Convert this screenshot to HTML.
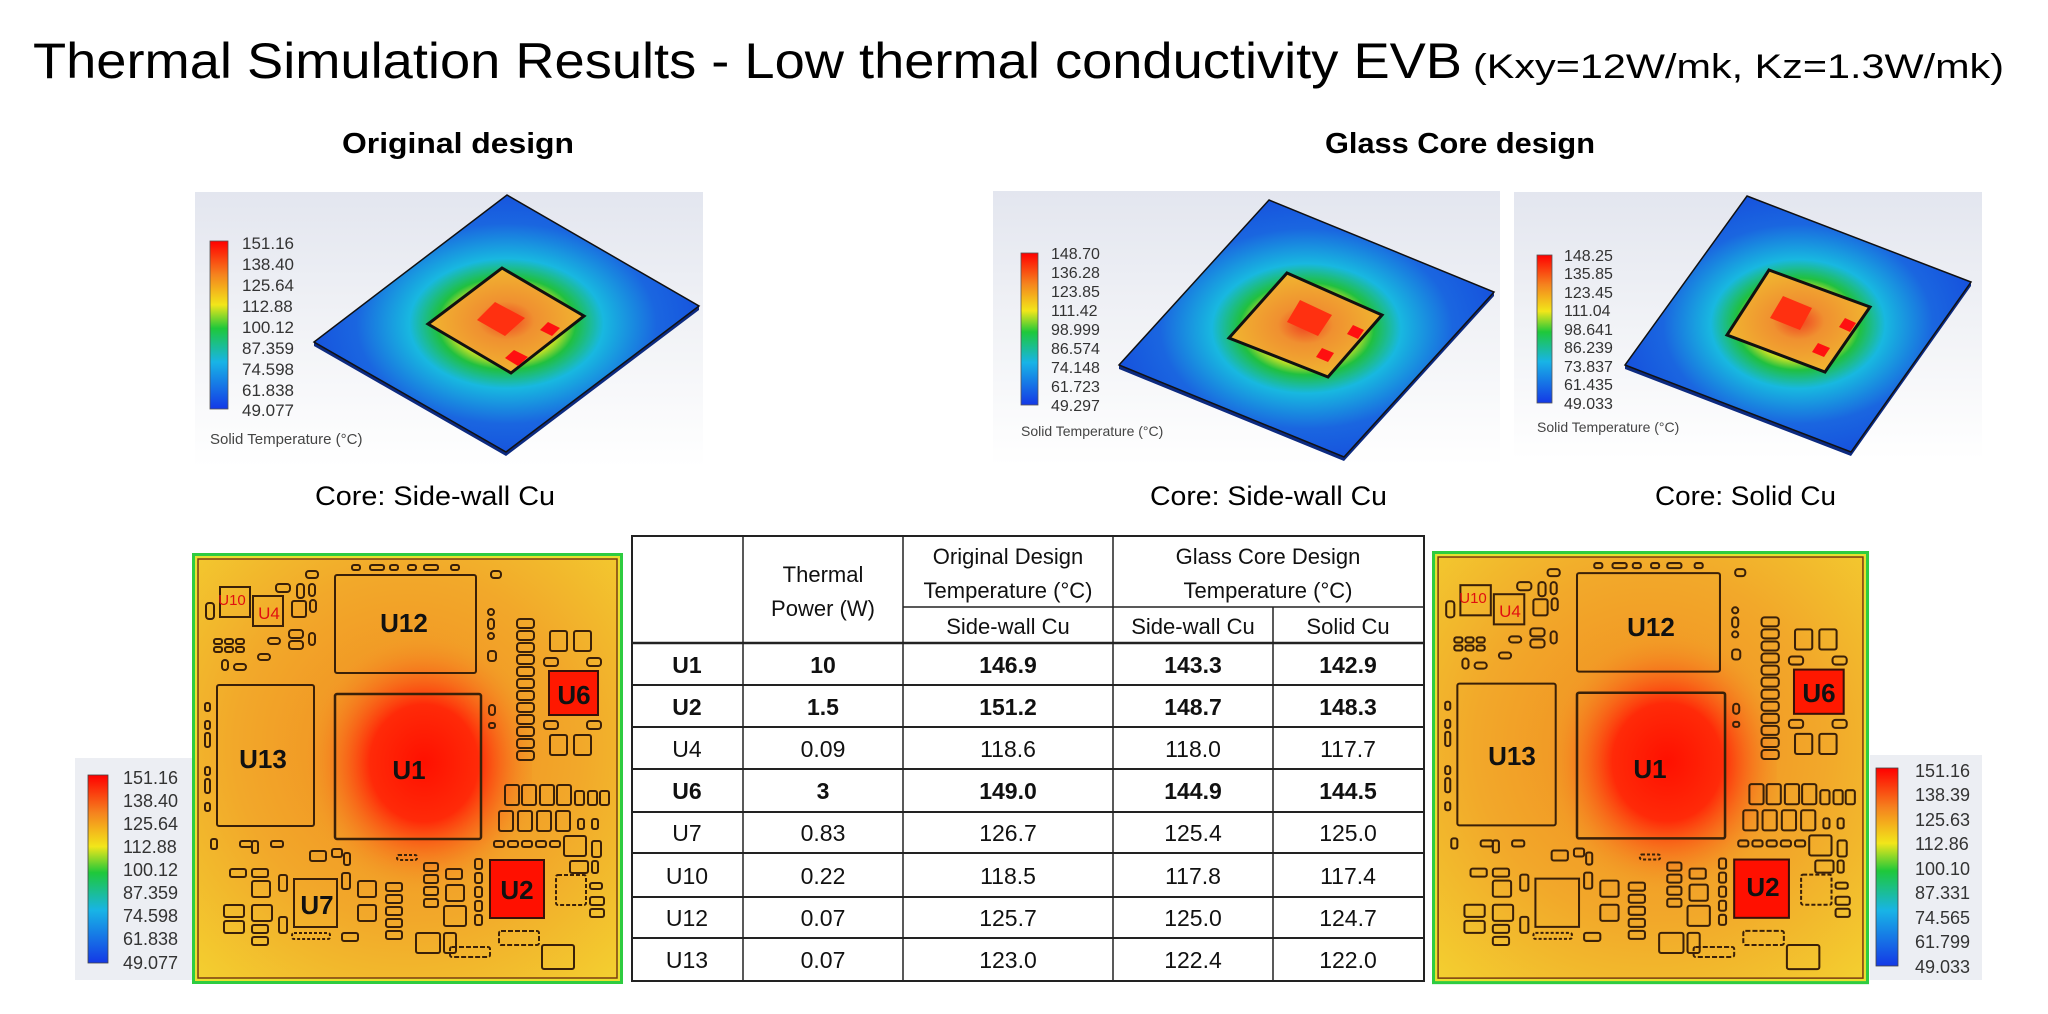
<!DOCTYPE html>
<html><head><meta charset="utf-8"><style>
html,body{margin:0;padding:0;background:#fff;width:2048px;height:1014px;overflow:hidden}
svg{display:block}
text{font-family:"Liberation Sans",sans-serif}
</style></head><body>
<svg width="2048" height="1014" viewBox="0 0 2048 1014" xmlns="http://www.w3.org/2000/svg">
<defs>
<linearGradient id="cbar" x1="0" y1="0" x2="0" y2="1">
<stop offset="0" stop-color="#ff0000"/><stop offset="0.2" stop-color="#f5821e"/><stop offset="0.38" stop-color="#f2e61a"/><stop offset="0.52" stop-color="#1ec83a"/><stop offset="0.72" stop-color="#18b4e6"/><stop offset="1" stop-color="#1438e6"/>
</linearGradient>
<linearGradient id="bg" x1="0" y1="0" x2="0" y2="1"><stop offset="0" stop-color="#e3e6ef"/><stop offset="0.6" stop-color="#f4f5f8"/><stop offset="1" stop-color="#ffffff"/></linearGradient>
<radialGradient id="plate" cx="0.5" cy="0.5" r="0.6">
<stop offset="0" stop-color="#f5e020"/><stop offset="0.22" stop-color="#e8e820"/><stop offset="0.3" stop-color="#20c040"/><stop offset="0.42" stop-color="#18b8e0"/><stop offset="0.65" stop-color="#1a66e0"/><stop offset="1" stop-color="#1446dc"/>
</radialGradient>
<radialGradient id="board" cx="0.5" cy="0.45" r="0.75">
<stop offset="0" stop-color="#f08a20"/><stop offset="0.55" stop-color="#f2a82a"/><stop offset="1" stop-color="#f3d030"/>
</radialGradient>
<radialGradient id="hot" cx="0.55" cy="0.5" r="0.5">
<stop offset="0" stop-color="#ff1000"/><stop offset="0.45" stop-color="#ff2a08"/><stop offset="1" stop-color="#f39a28" stop-opacity="0"/>
</radialGradient>
<radialGradient id="chip" cx="0.5" cy="0.5" r="0.6"><stop offset="0" stop-color="#f04020"/><stop offset="0.3" stop-color="#f09030"/><stop offset="1" stop-color="#f0c030"/></radialGradient>
<g id="brd">
<rect x="0" y="0" width="431" height="431" fill="#2ecc40"/>
<rect x="3" y="3" width="425" height="425" fill="#e8e030"/>
<rect x="6" y="6" width="419" height="419" fill="url(#board)" stroke="#7a3c10" stroke-width="1.5"/>
<rect x="100" y="80" width="240" height="260" fill="url(#hot)"/>
<g fill="none" stroke="#3a2008" stroke-width="2">
<rect x="143" y="22" width="141" height="98" rx="2"/>
<rect x="25" y="132" width="97" height="141" rx="2"/>
<rect x="143" y="141" width="146" height="145" rx="2" stroke-width="2.5"/>
<rect x="102" y="326" width="43" height="48"/>
<rect x="28" y="34" width="30" height="30"/><rect x="61" y="43" width="30" height="30"/>
<rect x="14" y="50" width="8" height="16" rx="3"/>
<rect x="84" y="31" width="14" height="8" rx="3"/><rect x="105" y="31" width="7" height="14" rx="3"/><rect x="117" y="31" width="6" height="12" rx="3"/>
<rect x="114" y="18" width="12" height="7" rx="3"/><rect x="100" y="48" width="14" height="16" rx="2"/><rect x="118" y="47" width="6" height="12" rx="3"/>
<rect x="97" y="77" width="14" height="8" rx="3"/><rect x="97" y="88" width="14" height="8" rx="3"/><rect x="117" y="80" width="6" height="12" rx="3"/>
<rect x="76" y="85" width="12" height="6" rx="3"/><rect x="66" y="101" width="12" height="6" rx="3"/><rect x="30" y="107" width="6" height="10" rx="3"/><rect x="42" y="111" width="12" height="6" rx="3"/>
<rect x="22" y="86" width="8" height="5" rx="2"/><rect x="33" y="86" width="8" height="5" rx="2"/><rect x="44" y="86" width="8" height="5" rx="2"/>
<rect x="22" y="94" width="8" height="5" rx="2"/><rect x="33" y="94" width="8" height="5" rx="2"/><rect x="44" y="94" width="8" height="5" rx="2"/>
<rect x="160" y="12" width="8" height="5" rx="2"/><rect x="178" y="12" width="14" height="5" rx="2"/><rect x="198" y="12" width="8" height="5" rx="2"/><rect x="216" y="12" width="8" height="5" rx="2"/><rect x="232" y="12" width="14" height="5" rx="2"/><rect x="259" y="12" width="8" height="5" rx="2"/>
<rect x="299" y="18" width="10" height="7" rx="3"/>
<rect x="296" y="56" width="6" height="6" rx="3"/><rect x="296" y="66" width="6" height="10" rx="3"/><rect x="296" y="80" width="6" height="6" rx="3"/><rect x="296" y="98" width="8" height="10" rx="3"/>
<rect x="325" y="66" width="17" height="9" rx="3"/><rect x="325" y="78" width="17" height="9" rx="3"/><rect x="325" y="90" width="17" height="9" rx="3"/><rect x="325" y="102" width="17" height="9" rx="3"/><rect x="325" y="114" width="17" height="9" rx="3"/><rect x="325" y="126" width="17" height="9" rx="3"/><rect x="325" y="138" width="17" height="9" rx="3"/><rect x="325" y="150" width="17" height="9" rx="3"/><rect x="325" y="162" width="17" height="9" rx="3"/><rect x="325" y="174" width="17" height="9" rx="3"/><rect x="325" y="186" width="17" height="9" rx="3"/><rect x="325" y="198" width="17" height="9" rx="3"/>
<rect x="358" y="78" width="17" height="20" rx="2"/><rect x="382" y="78" width="17" height="20" rx="2"/><rect x="352" y="105" width="14" height="8" rx="3"/><rect x="395" y="105" width="14" height="8" rx="3"/>
<rect x="352" y="168" width="14" height="8" rx="3"/><rect x="395" y="168" width="14" height="8" rx="3"/><rect x="358" y="182" width="17" height="20" rx="2"/><rect x="382" y="182" width="17" height="20" rx="2"/>
<rect x="297" y="152" width="6" height="10" rx="3"/><rect x="297" y="170" width="6" height="5" rx="2"/>
<rect x="13" y="150" width="5" height="8" rx="2"/><rect x="13" y="168" width="5" height="8" rx="2"/><rect x="13" y="180" width="5" height="14" rx="2"/><rect x="13" y="214" width="5" height="8" rx="2"/><rect x="13" y="226" width="5" height="14" rx="2"/><rect x="13" y="250" width="5" height="8" rx="2"/>
<rect x="313" y="232" width="14" height="20" rx="2"/><rect x="330" y="232" width="14" height="20" rx="2"/><rect x="348" y="232" width="14" height="20" rx="2"/><rect x="365" y="232" width="14" height="20" rx="2"/><rect x="383" y="238" width="9" height="14" rx="2"/><rect x="396" y="238" width="9" height="14" rx="2"/><rect x="408" y="238" width="9" height="14" rx="2"/>
<rect x="307" y="258" width="14" height="20" rx="2"/><rect x="326" y="258" width="14" height="20" rx="2"/><rect x="345" y="258" width="14" height="20" rx="2"/><rect x="364" y="258" width="14" height="20" rx="2"/><rect x="386" y="266" width="6" height="10" rx="2"/><rect x="400" y="266" width="6" height="10" rx="2"/>
<rect x="302" y="288" width="10" height="6" rx="2"/><rect x="316" y="288" width="10" height="6" rx="2"/><rect x="330" y="288" width="10" height="6" rx="2"/><rect x="344" y="288" width="10" height="6" rx="2"/><rect x="358" y="288" width="10" height="6" rx="2"/><rect x="372" y="283" width="22" height="20" rx="2"/><rect x="400" y="288" width="9" height="16" rx="2"/>
<rect x="378" y="308" width="18" height="12" rx="2"/><rect x="400" y="308" width="6" height="12" rx="2"/>
<rect x="364" y="322" width="30" height="30" rx="2" stroke-dasharray="4 2"/><rect x="398" y="330" width="12" height="6" rx="2"/><rect x="398" y="344" width="14" height="8" rx="2"/><rect x="398" y="356" width="14" height="8" rx="2"/>
<rect x="350" y="392" width="32" height="24" rx="2"/><rect x="307" y="378" width="40" height="14" rx="2" stroke-dasharray="5 2"/><rect x="258" y="394" width="40" height="10" rx="2" stroke-dasharray="5 2"/>
<rect x="19" y="286" width="6" height="10" rx="2"/><rect x="48" y="288" width="12" height="6" rx="2"/><rect x="60" y="288" width="6" height="12" rx="2"/><rect x="79" y="288" width="12" height="6" rx="2"/>
<rect x="38" y="316" width="16" height="8" rx="2"/><rect x="60" y="316" width="16" height="8" rx="2"/><rect x="60" y="328" width="18" height="16" rx="2"/><rect x="87" y="322" width="8" height="16" rx="2"/>
<rect x="32" y="352" width="20" height="12" rx="2"/><rect x="32" y="368" width="20" height="12" rx="2"/><rect x="60" y="352" width="20" height="16" rx="2"/><rect x="60" y="372" width="16" height="8" rx="2"/><rect x="60" y="384" width="16" height="8" rx="2"/><rect x="87" y="364" width="8" height="16" rx="2"/>
<rect x="100" y="380" width="38" height="6" rx="2" stroke-dasharray="3 2"/><rect x="118" y="298" width="16" height="10" rx="2"/><rect x="140" y="296" width="10" height="8" rx="2"/><rect x="152" y="300" width="6" height="12" rx="2"/><rect x="150" y="320" width="8" height="16" rx="2"/>
<rect x="166" y="328" width="18" height="16" rx="2"/><rect x="166" y="352" width="18" height="16" rx="2"/><rect x="150" y="380" width="16" height="8" rx="2"/>
<rect x="194" y="330" width="16" height="8" rx="2"/><rect x="194" y="342" width="16" height="8" rx="2"/><rect x="194" y="354" width="16" height="8" rx="2"/><rect x="194" y="366" width="16" height="8" rx="2"/><rect x="194" y="378" width="16" height="8" rx="2"/>
<rect x="205" y="302" width="20" height="5" rx="2" stroke-dasharray="3 2"/><rect x="232" y="310" width="14" height="8" rx="2"/><rect x="232" y="322" width="14" height="8" rx="2"/><rect x="232" y="334" width="14" height="8" rx="2"/><rect x="232" y="346" width="14" height="8" rx="2"/>
<rect x="254" y="316" width="16" height="10" rx="2"/><rect x="254" y="332" width="18" height="16" rx="2"/><rect x="252" y="353" width="22" height="20" rx="2"/>
<rect x="283" y="306" width="7" height="10" rx="2"/><rect x="283" y="320" width="7" height="10" rx="2"/><rect x="283" y="334" width="7" height="10" rx="2"/><rect x="283" y="348" width="7" height="10" rx="2"/><rect x="283" y="362" width="7" height="10" rx="2"/>
<rect x="224" y="380" width="24" height="20" rx="2"/><rect x="252" y="380" width="12" height="20" rx="2"/>
</g>
<rect x="357" y="118" width="49" height="44" fill="#ff1800" stroke="#3a1008" stroke-width="2"/>
<rect x="298" y="307" width="54" height="58" fill="#ff1000" stroke="#3a1008" stroke-width="2"/>
</g>
</defs>

<!-- Title -->
<text x="33" y="78" font-size="50" fill="#000" textLength="1429" lengthAdjust="spacingAndGlyphs">Thermal Simulation Results  - Low thermal conductivity EVB</text>
<text x="1473" y="78" font-size="34" fill="#000" textLength="531" lengthAdjust="spacingAndGlyphs">(Kxy=12W/mk, Kz=1.3W/mk)</text>
<text x="342" y="153" font-size="29" font-weight="bold" textLength="232" lengthAdjust="spacingAndGlyphs">Original design</text>
<text x="1325" y="153" font-size="29" font-weight="bold" textLength="270" lengthAdjust="spacingAndGlyphs">Glass Core design</text>

<!-- Image 1 -->
<rect x="195" y="192" width="508" height="275" fill="url(#bg)"/>
<polygon points="314,346 506,456 699,310 699,306 506,452 314,342" fill="#0c2a80"/>
<polygon points="507,195 699,306 506,452 314,342" fill="url(#plate)" stroke="#111" stroke-width="1.5"/>
<polygon points="502,268 584,316 511,373 428,324" fill="url(#chip)" stroke="#111" stroke-width="3"/>
<polygon points="495,302 525,318 505,336 477,320" fill="#ff3010"/>
<polygon points="514,350 528,357 518,366 505,358" fill="#ff1010"/>
<polygon points="548,322 560,328 552,336 540,330" fill="#ff1010"/>
<rect x="210" y="241" width="18" height="168" fill="url(#cbar)" stroke="#555" stroke-width="0.8"/>
<g font-size="17" fill="#333">
<text x="242" y="249">151.16</text><text x="242" y="270">138.40</text><text x="242" y="291">125.64</text><text x="242" y="312">112.88</text><text x="242" y="333">100.12</text><text x="242" y="354">87.359</text><text x="242" y="375">74.598</text><text x="242" y="396">61.838</text><text x="242" y="416">49.077</text>
<text x="210" y="444" font-size="15" fill="#444">Solid Temperature (°C)</text>
</g>

<!-- Image 2 -->
<rect x="993" y="191" width="507" height="275" fill="url(#bg)"/>
<polygon points="1119,369 1344,461 1494,296 1494,292 1344,457 1119,365" fill="#0c2a80"/>
<polygon points="1269,200 1494,292 1344,457 1119,365" fill="url(#plate)" stroke="#111" stroke-width="1.5"/>
<polygon points="1287,273 1382,315 1328,377 1229,338" fill="url(#chip)" stroke="#111" stroke-width="3"/>
<polygon points="1300,300 1332,315 1318,336 1287,322" fill="#ff3010"/>
<polygon points="1322,348 1334,353 1328,362 1316,357" fill="#ff1010"/>
<polygon points="1353,325 1364,330 1358,339 1347,334" fill="#ff1010"/>
<rect x="1021" y="253" width="17" height="152" fill="url(#cbar)" stroke="#555" stroke-width="0.8"/>
<g font-size="16" fill="#333">
<text x="1051" y="259">148.70</text><text x="1051" y="278">136.28</text><text x="1051" y="297">123.85</text><text x="1051" y="316">111.42</text><text x="1051" y="335">98.999</text><text x="1051" y="354">86.574</text><text x="1051" y="373">74.148</text><text x="1051" y="392">61.723</text><text x="1051" y="411">49.297</text>
<text x="1021" y="436" font-size="14" fill="#444">Solid Temperature (°C)</text>
</g>

<!-- Image 3 -->
<rect x="1514" y="192" width="468" height="268" fill="url(#bg)"/>
<polygon points="1625,369 1851,456 1971,286 1971,282 1851,452 1625,365" fill="#0c2a80"/>
<polygon points="1747,196 1971,282 1851,452 1625,365" fill="url(#plate)" stroke="#111" stroke-width="1.5"/>
<polygon points="1769,270 1870,307 1825,372 1727,335" fill="url(#chip)" stroke="#111" stroke-width="3"/>
<polygon points="1783,296 1812,308 1800,330 1770,318" fill="#ff3010"/>
<polygon points="1818,343 1830,348 1824,357 1812,352" fill="#ff1010"/>
<polygon points="1845,318 1856,323 1850,332 1839,327" fill="#ff1010"/>
<rect x="1537" y="255" width="15" height="148" fill="url(#cbar)" stroke="#555" stroke-width="0.8"/>
<g font-size="16" fill="#333">
<text x="1564" y="261">148.25</text><text x="1564" y="279">135.85</text><text x="1564" y="298">123.45</text><text x="1564" y="316">111.04</text><text x="1564" y="335">98.641</text><text x="1564" y="353">86.239</text><text x="1564" y="372">73.837</text><text x="1564" y="390">61.435</text><text x="1564" y="409">49.033</text>
<text x="1537" y="432" font-size="14" fill="#444">Solid Temperature (°C)</text>
</g>

<!-- captions -->
<text x="315" y="505" font-size="27" textLength="240" lengthAdjust="spacingAndGlyphs">Core: Side-wall Cu</text>
<text x="1150" y="505" font-size="27" textLength="237" lengthAdjust="spacingAndGlyphs">Core: Side-wall Cu</text>
<text x="1655" y="505" font-size="27" textLength="181" lengthAdjust="spacingAndGlyphs">Core: Solid Cu</text>

<!-- Left board -->
<use href="#brd" transform="translate(192,553)"/>
<g font-weight="bold" fill="#111" text-anchor="middle">
<text x="404" y="632" font-size="26">U12</text>
<text x="263" y="768" font-size="26">U13</text>
<text x="409" y="779" font-size="26">U1</text>
<text x="574" y="704" font-size="26">U6</text>
<text x="517" y="899" font-size="26">U2</text>
<text x="317" y="914" font-size="26">U7</text>
<text x="232" y="605" font-size="15" fill="#e01010" font-weight="normal">U10</text>
<text x="269" y="619" font-size="17" fill="#e01010" font-weight="normal">U4</text>
</g>
<!-- Right board -->
<use href="#brd" transform="translate(1432,551) scale(1.014,1.005)"/>
<g font-weight="bold" fill="#111" text-anchor="middle">
<text x="1651" y="636" font-size="26">U12</text>
<text x="1512" y="765" font-size="26">U13</text>
<text x="1650" y="778" font-size="26">U1</text>
<text x="1819" y="702" font-size="26">U6</text>
<text x="1763" y="896" font-size="26">U2</text>
<text x="1473" y="603" font-size="15" fill="#e01010" font-weight="normal">U10</text>
<text x="1510" y="617" font-size="17" fill="#e01010" font-weight="normal">U4</text>
</g>

<!-- Left colorbar box -->
<rect x="75" y="758" width="117" height="222" fill="#eceef3"/>
<rect x="88" y="775" width="20" height="188" fill="url(#cbar)" stroke="#444" stroke-width="0.8"/>
<g font-size="18" fill="#333">
<text x="123" y="784">151.16</text><text x="123" y="807">138.40</text><text x="123" y="830">125.64</text><text x="123" y="853">112.88</text><text x="123" y="876">100.12</text><text x="123" y="899">87.359</text><text x="123" y="922">74.598</text><text x="123" y="945">61.838</text><text x="123" y="969">49.077</text>
</g>
<!-- Right colorbar box -->
<rect x="1870" y="755" width="112" height="225" fill="#eceef3"/>
<rect x="1876" y="768" width="22" height="198" fill="url(#cbar)" stroke="#444" stroke-width="0.8"/>
<g font-size="18" fill="#333">
<text x="1915" y="777">151.16</text><text x="1915" y="801">138.39</text><text x="1915" y="826">125.63</text><text x="1915" y="850">112.86</text><text x="1915" y="875">100.10</text><text x="1915" y="899">87.331</text><text x="1915" y="924">74.565</text><text x="1915" y="948">61.799</text><text x="1915" y="973">49.033</text>
</g>

<!-- Table -->
<g stroke="#222" fill="none">
<rect x="632" y="536" width="792" height="445" stroke-width="2"/>
<line x1="743" y1="536" x2="743" y2="981" stroke-width="1.5"/>
<line x1="903" y1="536" x2="903" y2="981" stroke-width="1.5"/>
<line x1="1113" y1="536" x2="1113" y2="981" stroke-width="1.5"/>
<line x1="1273" y1="607" x2="1273" y2="981" stroke-width="1.5"/>
<line x1="903" y1="607" x2="1424" y2="607" stroke-width="1.5"/>
<line x1="632" y1="643" x2="1424" y2="643" stroke-width="2.5"/>
<line x1="632" y1="685" x2="1424" y2="685" stroke-width="2"/>
<line x1="632" y1="727" x2="1424" y2="727" stroke-width="2"/>
<line x1="632" y1="769" x2="1424" y2="769" stroke-width="2"/>
<line x1="632" y1="812" x2="1424" y2="812" stroke-width="2"/>
<line x1="632" y1="853" x2="1424" y2="853" stroke-width="2"/>
<line x1="632" y1="897" x2="1424" y2="897" stroke-width="2"/>
<line x1="632" y1="938" x2="1424" y2="938" stroke-width="2"/>
</g>
<g font-size="22" fill="#111" text-anchor="middle">
<text x="823" y="582">Thermal</text><text x="823" y="616">Power (W)</text>
<text x="1008" y="564">Original Design</text><text x="1008" y="598">Temperature (°C)</text>
<text x="1268" y="564">Glass Core Design</text><text x="1268" y="598">Temperature (°C)</text>
<text x="1008" y="634">Side-wall Cu</text><text x="1193" y="634">Side-wall Cu</text><text x="1348" y="634">Solid Cu</text>
</g>
<g font-size="23" fill="#111" text-anchor="middle">
<g font-weight="bold">
<text x="687" y="673">U1</text><text x="823" y="673">10</text><text x="1008" y="673">146.9</text><text x="1193" y="673">143.3</text><text x="1348" y="673">142.9</text>
<text x="687" y="715">U2</text><text x="823" y="715">1.5</text><text x="1008" y="715">151.2</text><text x="1193" y="715">148.7</text><text x="1348" y="715">148.3</text>
<text x="687" y="799">U6</text><text x="823" y="799">3</text><text x="1008" y="799">149.0</text><text x="1193" y="799">144.9</text><text x="1348" y="799">144.5</text>
</g>
<text x="687" y="757">U4</text><text x="823" y="757">0.09</text><text x="1008" y="757">118.6</text><text x="1193" y="757">118.0</text><text x="1348" y="757">117.7</text>
<text x="687" y="841">U7</text><text x="823" y="841">0.83</text><text x="1008" y="841">126.7</text><text x="1193" y="841">125.4</text><text x="1348" y="841">125.0</text>
<text x="687" y="884">U10</text><text x="823" y="884">0.22</text><text x="1008" y="884">118.5</text><text x="1193" y="884">117.8</text><text x="1348" y="884">117.4</text>
<text x="687" y="926">U12</text><text x="823" y="926">0.07</text><text x="1008" y="926">125.7</text><text x="1193" y="926">125.0</text><text x="1348" y="926">124.7</text>
<text x="687" y="968">U13</text><text x="823" y="968">0.07</text><text x="1008" y="968">123.0</text><text x="1193" y="968">122.4</text><text x="1348" y="968">122.0</text>
</g>
</svg>
</body></html>
